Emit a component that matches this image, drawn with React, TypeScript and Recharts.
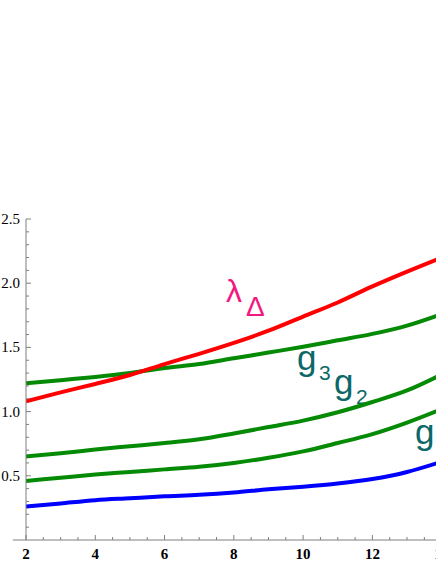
import React from 'react';
import { LineChart, Line, XAxis, YAxis, ReferenceLine } from 'recharts';

const xs = [2, 3, 4, 5, 6, 7, 8, 9, 10, 11, 12, 13, 14];
const lambdaDelta = [1.08, 1.15, 1.215, 1.285, 1.37, 1.45, 1.535, 1.63, 1.74, 1.85, 1.975, 2.09, 2.2];
const g3 = [1.22, 1.245, 1.27, 1.3, 1.34, 1.37, 1.415, 1.46, 1.505, 1.555, 1.605, 1.67, 1.76];
const g2 = [0.65, 0.675, 0.705, 0.73, 0.755, 0.785, 0.83, 0.88, 0.93, 0.995, 1.075, 1.165, 1.29];
const g1 = [0.46, 0.485, 0.51, 0.53, 0.55, 0.57, 0.6, 0.64, 0.69, 0.755, 0.825, 0.915, 1.02];
const g0 = [0.26, 0.285, 0.31, 0.325, 0.34, 0.352, 0.37, 0.395, 0.415, 0.44, 0.475, 0.53, 0.61];

const xTicks = Array.from({ length: 25 }, (_, i) => 2 + i * 0.5);
const yTicks = Array.from({ length: 25 }, (_, i) => Math.round((i + 1) * 10) / 100);
const xMajor = [2, 4, 6, 8, 10, 12, 14];
const yMajor = [0.5, 1, 1.5, 2, 2.5];

const data = xs.map((x, i) => ({
  x,
  ld: lambdaDelta[i],
  g3: g3[i],
  g2: g2[i],
  g1: g1[i],
  g0: g0[i],
}));

const AXIS = '#7f7f7f';
const GREEN = '#058a05';
const TEAL = '#0c6868';
const PINK = '#f5177f';

const XTick = (props: any) => {
  const { x, y, payload } = props;
  const major = xMajor.includes(payload.value);
  return (
    <g>
      <line x1={x} x2={x} y1={y} y2={y - (major ? 5 : 3)} stroke={AXIS} strokeWidth={1} />
      {major && (
        <text x={x} y={y + 19} textAnchor="middle" fontFamily="'Liberation Serif', serif" fontWeight="bold" fontSize={15} fill="#000">
          {payload.value}
        </text>
      )}
    </g>
  );
};

const YTick = (props: any) => {
  const { x, y, payload } = props;
  const major = yMajor.includes(payload.value);
  return (
    <g>
      <line x1={x} x2={x + (major ? 5 : 3)} y1={y} y2={y} stroke={AXIS} strokeWidth={1} />
      {major && (
        <text x={x - 6} y={y + 5} textAnchor="end" fontFamily="'Liberation Serif', serif" fontSize={15} fill="#000">
          {payload.value.toFixed(1)}
        </text>
      )}
    </g>
  );
};

export default function App() {
  return (
    <div style={{ position: 'fixed', left: 0, top: 0, width: 436, height: 564, overflow: 'hidden', background: '#fff' }}>
      <LineChart width={472} height={564} data={data} margin={{ top: 219, right: 13, bottom: 0, left: 0 }}>
        <XAxis
          dataKey="x"
          type="number"
          domain={[2, 14.5]}
          ticks={xTicks}
          interval={0}
          tick={<XTick />}
          tickLine={false}
          tickSize={0}
          tickMargin={0}
          height={24}
          axisLine={{ stroke: AXIS }}
          allowDataOverflow
        />
        <YAxis
          type="number"
          domain={[0, 2.5]}
          ticks={yTicks}
          interval={0}
          tick={<YTick />}
          tickLine={false}
          tickSize={0}
          tickMargin={0}
          width={26}
          axisLine={{ stroke: AXIS }}
        />
        <ReferenceLine
          segment={[{ x: 1.62, y: 0 }, { x: 2, y: 0 }]}
          stroke={AXIS}
          ifOverflow="visible"
        />
        <Line dataKey="g0" type="monotone" stroke="#0000ff" strokeWidth={4} dot={false} isAnimationActive={false} />
        <Line dataKey="g1" type="monotone" stroke={GREEN} strokeWidth={4} dot={false} isAnimationActive={false} />
        <Line dataKey="g2" type="monotone" stroke={GREEN} strokeWidth={4} dot={false} isAnimationActive={false} />
        <Line dataKey="g3" type="monotone" stroke={GREEN} strokeWidth={4} dot={false} isAnimationActive={false} />
        <Line dataKey="ld" type="monotone" stroke="#ff0000" strokeWidth={4} dot={false} isAnimationActive={false} />
        <text fontFamily="'Liberation Sans', Arial, sans-serif" fill={PINK}>
          <tspan x={226} y={302} fontSize={32}>λ</tspan>
          <tspan x={246} y={316} fontSize={28}>Δ</tspan>
        </text>
        <text fontFamily="'Liberation Sans', Arial, sans-serif" fill={TEAL}>
          <tspan x={297} y={370} fontSize={35}>g</tspan>
          <tspan x={319} y={380} fontSize={21}>3</tspan>
          <tspan x={334} y={394} fontSize={35}>g</tspan>
          <tspan x={356} y={404} fontSize={21}>2</tspan>
          <tspan x={415} y={444} fontSize={35}>g</tspan>
        </text>
      </LineChart>
    </div>
  );
}
